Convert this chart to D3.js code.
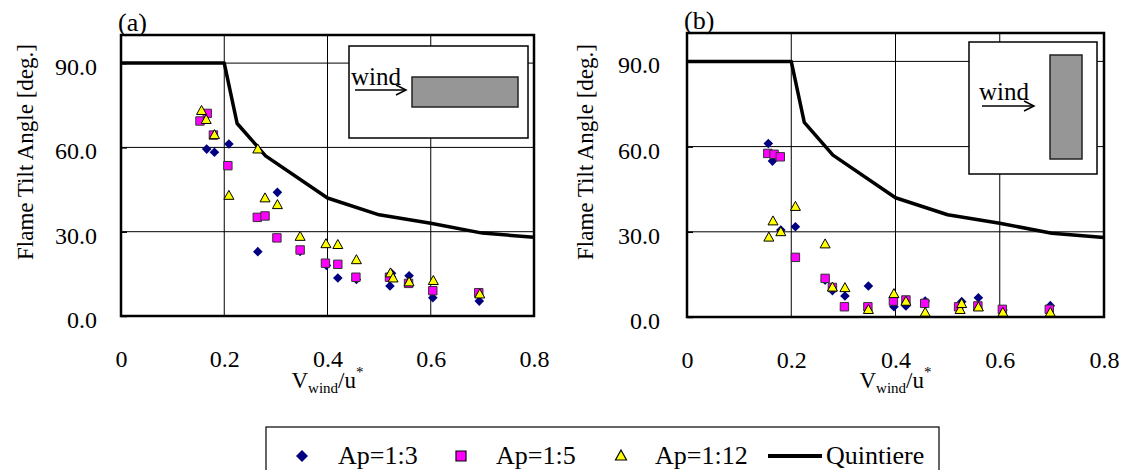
<!DOCTYPE html>
<html>
<head>
<meta charset="utf-8">
<script src="https://cdn.jsdelivr.net/npm/d3@7"></script>
<style>
html,body{margin:0;padding:0;background:#fff;}
svg{display:block;}
</style>
</head>
<body>
<svg id="chart" width="1123" height="470"></svg>
<script>
// ---------- DATA ----------
const xTickValues = [0, 0.2, 0.4, 0.6, 0.8];
const xTickLabels = ["0", "0.2", "0.4", "0.6", "0.8"];
const yTickValues = [0, 30, 60, 90];
const yTickLabels = ["0.0", "30.0", "60.0", "90.0"];

const seriesNames = ["Ap=1:3", "Ap=1:5", "Ap=1:12", "Quintiere"];

// Quintiere correlation (same in both panels)
const quintiereX = [0, 0.2, 0.225, 0.28, 0.4, 0.5, 0.6, 0.7, 0.8];
const quintiereY = [90, 90, 68.5, 57, 42, 36, 33, 29.5, 28];

// Panel (a)
const a13X = [0.166, 0.181, 0.209, 0.265, 0.303, 0.347, 0.398, 0.420, 0.456, 0.521, 0.524, 0.558, 0.604, 0.694];
const a13Y = [59.4, 58.3, 61.2, 22.9, 44.0, 23.0, 18.0, 13.5, 13.0, 10.7, 15.2, 14.3, 6.5, 5.3];
const a15X = [0.153, 0.167, 0.179, 0.207, 0.264, 0.279, 0.302, 0.347, 0.396, 0.420, 0.455, 0.520, 0.557, 0.604, 0.693];
const a15Y = [69.4, 72.1, 64.4, 53.5, 35.1, 35.6, 27.8, 23.5, 18.8, 18.4, 13.8, 13.8, 11.6, 9.0, 8.3];
const a112X = [0.156, 0.165, 0.181, 0.209, 0.265, 0.279, 0.303, 0.347, 0.397, 0.420, 0.456, 0.522, 0.527, 0.558, 0.605, 0.695];
const a112Y = [73.0, 69.8, 64.4, 42.8, 59.3, 41.9, 39.5, 28.2, 25.6, 25.3, 19.9, 15.2, 13.4, 12.0, 12.5, 7.7];

// Panel (b)
const b13X = [0.156, 0.164, 0.180, 0.208, 0.265, 0.279, 0.303, 0.348, 0.397, 0.420, 0.457, 0.527, 0.559, 0.606, 0.697];
const b13Y = [61.1, 54.9, 30.6, 31.8, 13.0, 9.3, 7.4, 10.9, 3.6, 3.9, 5.6, 5.4, 6.8, 2.5, 4.0];
const b15X = [0.155, 0.167, 0.179, 0.208, 0.265, 0.279, 0.302, 0.347, 0.396, 0.420, 0.456, 0.521, 0.558, 0.605, 0.695];
const b15Y = [57.6, 57.3, 56.4, 21.0, 13.6, 10.4, 3.6, 3.6, 5.6, 6.0, 4.8, 3.6, 3.9, 2.7, 2.7];
const b112X = [0.157, 0.165, 0.180, 0.208, 0.265, 0.279, 0.303, 0.348, 0.397, 0.420, 0.457, 0.524, 0.527, 0.559, 0.606, 0.697];
const b112Y = [28.0, 33.7, 29.9, 38.8, 25.6, 10.4, 10.2, 2.5, 8.1, 5.4, 1.5, 2.5, 4.6, 3.4, 1.5, 1.5];

// ---------- STYLE / LAYOUT ----------
const FONT = "'Liberation Serif','Times New Roman',serif";
const colors = { d13: "#000080", d15: "#FF00FF", d112: "#FFFF00" };

const svg = d3.select("#chart");

const zip = (xs, ys) => xs.map((x, i) => ({ x: x, y: ys[i] }));

function diamondPath(s) { return `M0,${-s}L${s},0L0,${s}L${-s},0Z`; }
function squarePath(s) { return `M${-s},${-s}H${s}V${s}H${-s}Z`; }
function trianglePath(w, h) { return `M0,${-h * 0.6}L${w / 2},${h * 0.4}L${-w / 2},${h * 0.4}Z`; }

function drawMarkers(g, pts, x, y, kind) {
  const sel = g.append("g").selectAll("path").data(pts).join("path")
    .attr("transform", d => `translate(${x(d.x)},${y(d.y)})`);
  if (kind === "d13") {
    sel.attr("d", diamondPath(4.8)).attr("fill", colors.d13).attr("stroke", "none");
  } else if (kind === "d15") {
    sel.attr("d", squarePath(4.2)).attr("fill", colors.d15).attr("stroke", "#333").attr("stroke-width", 1);
  } else {
    sel.attr("d", trianglePath(10, 9)).attr("fill", colors.d112).attr("stroke", "#000").attr("stroke-width", 1);
  }
}

function drawPanel(cfg) {
  const x = d3.scaleLinear().domain([0, 0.8]).range([cfg.left, cfg.right]);
  const y = d3.scaleLinear().domain([0, 100]).range([cfg.bottom, cfg.top]);
  const g = svg.append("g");

  // gridlines
  g.append("g").selectAll("line").data(xTickValues.filter(v => v > 0 && v < 0.8)).join("line")
    .attr("x1", d => x(d)).attr("x2", d => x(d)).attr("y1", cfg.top).attr("y2", cfg.bottom)
    .attr("stroke", "#000").attr("stroke-width", 1);
  g.append("g").selectAll("line").data(yTickValues.filter(v => v > 0)).join("line")
    .attr("x1", cfg.left).attr("x2", cfg.right).attr("y1", d => y(d)).attr("y2", d => y(d))
    .attr("stroke", "#000").attr("stroke-width", 1);

  // axes (ticks + labels)
  const xAxis = d3.axisBottom(x).tickValues(xTickValues)
    .tickFormat((d, i) => xTickLabels[i]).tickSize(0).tickPadding(0);
  const gx = g.append("g").attr("transform", `translate(0,${cfg.bottom})`).call(xAxis);
  gx.select(".domain").remove();
  gx.selectAll("text").attr("font-family", FONT).attr("font-size", 24).attr("fill", "#000")
    .attr("dy", null).attr("y", 51);

  const yAxis = d3.axisLeft(y).tickValues(yTickValues)
    .tickFormat((d, i) => yTickLabels[i]).tickSize(-6).tickPadding(cfg.yLabelPad);
  const gy = g.append("g").attr("transform", `translate(${cfg.left},0)`).call(yAxis);
  gy.select(".domain").remove();
  gy.selectAll("line").attr("stroke", "#000").attr("stroke-width", 1.5);
  gy.selectAll("text").attr("font-family", FONT).attr("font-size", 24).attr("fill", "#000")
    .attr("dy", "0.48em");

  // inset
  const ins = cfg.inset;
  g.append("rect").attr("x", ins.x).attr("y", ins.y).attr("width", ins.w).attr("height", ins.h)
    .attr("fill", "#fff").attr("stroke", "#000").attr("stroke-width", 1.5);
  g.append("rect").attr("x", ins.rx).attr("y", ins.ry).attr("width", ins.rw).attr("height", ins.rh)
    .attr("fill", "#969696").attr("stroke", "#222").attr("stroke-width", 1.5);
  g.append("text").attr("x", ins.tx).attr("y", ins.ty).text("wind")
    .attr("font-family", FONT).attr("font-size", 25).attr("fill", "#000");
  g.append("line").attr("x1", ins.ax1).attr("x2", ins.ax2).attr("y1", ins.ay).attr("y2", ins.ay)
    .attr("stroke", "#000").attr("stroke-width", 1.5);
  g.append("path")
    .attr("d", `M${ins.ax2 - 10},${ins.ay - 5}L${ins.ax2},${ins.ay}L${ins.ax2 - 10},${ins.ay + 5}`)
    .attr("fill", "none").attr("stroke", "#000").attr("stroke-width", 1.5);

  // Quintiere line
  const line = d3.line().x(d => x(d.x)).y(d => y(d.y));
  g.append("path").datum(zip(quintiereX, quintiereY)).attr("d", line)
    .attr("fill", "none").attr("stroke", "#000").attr("stroke-width", 3.5).attr("stroke-linejoin", "round");

  // markers
  drawMarkers(g, zip(cfg.s13x, cfg.s13y), x, y, "d13");
  drawMarkers(g, zip(cfg.s15x, cfg.s15y), x, y, "d15");
  drawMarkers(g, zip(cfg.s112x, cfg.s112y), x, y, "d112");

  // frame
  g.append("rect").attr("x", cfg.left).attr("y", cfg.top)
    .attr("width", cfg.right - cfg.left).attr("height", cfg.bottom - cfg.top)
    .attr("fill", "none").attr("stroke", "#000").attr("stroke-width", 2.5);

  // panel label
  g.append("text").attr("x", cfg.left - 3).attr("y", cfg.top - 4).text(cfg.label)
    .attr("font-family", FONT).attr("font-size", 26).attr("fill", "#000");

  // y title
  g.append("text")
    .attr("transform", `translate(${cfg.yTitleX},${cfg.yTitleY}) rotate(-90)`)
    .attr("text-anchor", "middle").attr("font-family", FONT).attr("font-size", 23).attr("fill", "#000")
    .text("Flame Tilt Angle [deg.]");

  // x title
  const xt = g.append("text").attr("x", (cfg.left + cfg.right) / 2).attr("y", 388)
    .attr("text-anchor", "middle").attr("font-family", FONT).attr("font-size", 23).attr("fill", "#000");
  xt.append("tspan").text("V");
  xt.append("tspan").attr("font-size", 15).attr("dy", 5).text("wind");
  xt.append("tspan").attr("dy", -5).text("/u");
  xt.append("tspan").attr("font-size", 15).attr("dy", -11).text("*");
}

drawPanel({
  left: 121, right: 534, top: 35, bottom: 316, label: "(a)", yLabelPad: 24, yTitleX: 33, yTitleY: 152,
  s13x: a13X, s13y: a13Y, s15x: a15X, s15y: a15Y, s112x: a112X, s112y: a112Y,
  inset: { x: 349, y: 46, w: 179, h: 92, rx: 412, ry: 77, rw: 106, rh: 30,
           tx: 351, ty: 85, ax1: 355, ax2: 406, ay: 90 }
});
drawPanel({
  left: 687, right: 1104, top: 33, bottom: 317, label: "(b)", yLabelPad: 27, yTitleX: 593, yTitleY: 152,
  s13x: b13X, s13y: b13Y, s15x: b15X, s15y: b15Y, s112x: b112X, s112y: b112Y,
  inset: { x: 969, y: 42, w: 128, h: 132, rx: 1050, ry: 55, rw: 32, rh: 104,
           tx: 979, ty: 100, ax1: 982, ax2: 1034, ay: 106 }
});

// ---------- LEGEND ----------
const lg = svg.append("g");
lg.append("rect").attr("x", 266).attr("y", 427).attr("width", 673).attr("height", 60)
  .attr("fill", "#fff").attr("stroke", "#000").attr("stroke-width", 1.2);
const legendItems = [
  { kind: "d13", mx: 302, tx: 338 },
  { kind: "d15", mx: 461, tx: 496 },
  { kind: "d112", mx: 621, tx: 655 },
  { kind: "line", mx: 768, tx: 826 }
];
const ly = 456;
legendItems.forEach((it, i) => {
  if (it.kind === "d13") {
    lg.append("path").attr("transform", `translate(${it.mx},${ly})`).attr("d", diamondPath(6)).attr("fill", colors.d13);
  } else if (it.kind === "d15") {
    lg.append("path").attr("transform", `translate(${it.mx},${ly})`).attr("d", squarePath(5)).attr("fill", colors.d15)
      .attr("stroke", "#000").attr("stroke-width", 1.2);
  } else if (it.kind === "d112") {
    lg.append("path").attr("transform", `translate(${it.mx},${ly})`).attr("d", trianglePath(11, 10)).attr("fill", colors.d112)
      .attr("stroke", "#000").attr("stroke-width", 1.2);
  } else {
    lg.append("line").attr("x1", it.mx).attr("x2", 822).attr("y1", ly).attr("y2", ly)
      .attr("stroke", "#000").attr("stroke-width", 4);
  }
  lg.append("text").attr("x", it.tx).attr("y", ly + 8).text(seriesNames[i])
    .attr("font-family", FONT).attr("font-size", 26).attr("fill", "#000");
});
</script>
</body>
</html>
